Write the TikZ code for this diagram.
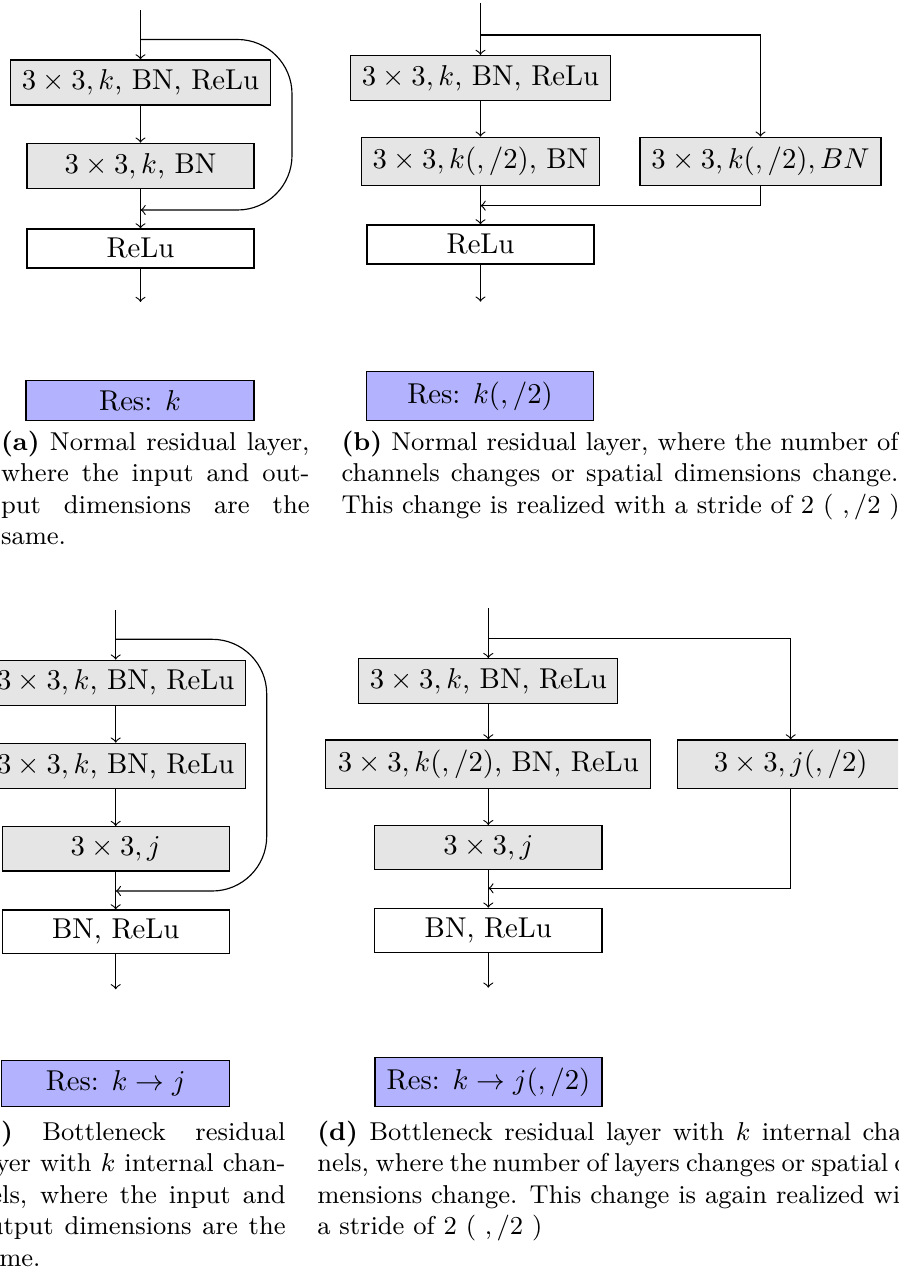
\documentclass[tikz,border=0pt]{standalone}
\newdimen\pxu \pxu=0.34843pt
\begin{document}
\begin{tikzpicture}[
  x=0.34843pt, y=-0.34843pt,
  gb/.style 2 args={draw, fill=black!10, inner sep=0pt, minimum width=#1*0.34843pt, minimum height=#2*0.34843pt},
  wb/.style 2 args={draw, fill=white, inner sep=0pt, minimum width=#1*0.34843pt, minimum height=#2*0.34843pt},
  rb/.style 2 args={draw, fill=blue!30, inner sep=0pt, minimum width=#1*0.34843pt, minimum height=#2*0.34843pt},
  arr/.style={->},
  skipline/.style={->, rounded corners=19pt},
  captxt/.style={inner sep=0pt, anchor=base west, font=\small}
]
\useasboundingbox (0,0) rectangle (898,1272);
\clip (0,0) rectangle (898,1272);

% ---------------- (a)
\coordinate (a0) at (140.5,10);
\coordinate (ab) at (140.5,39.5);
\node[gb={260}{45}] (a1) at (140.5,82.5) {$3\times3,k$, BN, ReLu};
\node[gb={227}{45.5}] (a2) at (140.5,166) {$3\times3,k$, BN};
\node[wb={227}{39}] (a3) at (140.5,248.5) {ReLu};
\coordinate (aj) at (140.5,210);
\coordinate (ar) at (292,210);
\coordinate (aout) at (140.5,302);
\node[rb={228}{40}] (ares) at (140,400.7) {Res: $k$};
\draw[arr] (a0) -- (a1);
\draw[arr] (a1) -- (a2);
\draw[arr] (a2) -- (a3);
\draw[arr] (a3) -- (aout);
\draw[skipline] (ab) -| (ar) -- (aj);

% ---------------- (b)
\coordinate (b0) at (480.5,3);
\coordinate (bb) at (480.5,35);
\node[gb={260}{45}] (b1) at (480.5,78) {$3\times3,k$, BN, ReLu};
\node[gb={238}{48.5}] (b2) at (480.5,161.5) {$3\times3,k(,/2)$, BN};
\node[gb={241}{48.5}] (b3) at (760.5,161.5) {$3\times3,k(,/2),BN$};
\coordinate (bj) at (480.5,205.7);
\node[wb={227}{39}] (b4) at (480.5,244.5) {ReLu};
\coordinate (bout) at (480.5,301.7);
\node[rb={227}{49}] (bres) at (480,396.2) {Res: $k(,/2)$};
\draw[arr] (b0) -- (b1);
\draw[arr] (b1) -- (b2);
\draw[arr] (b2) -- (b4);
\draw[arr] (b4) -- (bout);
\draw[arr] (bb) -| (b3);
\draw[arr] (b3) |- (bj);

% ---------------- (c)
\coordinate (c0) at (115.7,610);
\coordinate (cb) at (115.7,639.3);
\node[gb={260}{45}] (c1) at (115.7,682.7) {$3\times3,k$, BN, ReLu};
\node[gb={260}{45.5}] (c2) at (115.7,766) {$3\times3,k$, BN, ReLu};
\node[gb={227}{44.3}] (c3) at (115.7,848.8) {$3\times3,j$};
\coordinate (cj) at (115.7,891);
\node[wb={227}{43.3}] (c4) at (115.7,931.7) {BN, ReLu};
\coordinate (cout) at (115.7,989.3);
\coordinate (cr) at (266.7,891);
\node[rb={228}{46}] (cres) at (115.7,1083.7) {Res: $k\to j$};
\draw[arr] (c0) -- (c1);
\draw[arr] (c1) -- (c2);
\draw[arr] (c2) -- (c3);
\draw[arr] (c3) -- (c4);
\draw[arr] (c4) -- (cout);
\draw[skipline] (cb) -| (cr) -- (cj);

% ---------------- (d)
\coordinate (d0) at (488.3,608);
\coordinate (db) at (488.3,638.3);
\node[gb={259}{45}] (d1) at (488.3,681.2) {$3\times3,k$, BN, ReLu};
\node[gb={325}{48.3}] (d2) at (488.3,764.2) {$3\times3,k(,/2)$, BN, ReLu};
\node[gb={227}{48.3}] (d3) at (790.7,764.2) {$3\times3,j(,/2)$};
\node[gb={227.5}{43.6}] (d4) at (488.3,847.5) {$3\times3,j$};
\coordinate (dj) at (488.3,888.3);
\node[wb={227.5}{44.4}] (d5) at (488.3,930.5) {BN, ReLu};
\coordinate (dout) at (488.3,987.7);
\node[rb={227}{49}] (dres) at (488.5,1082.2) {Res: $k\to j(,/2)$};
\draw[arr] (d0) -- (d1);
\draw[arr] (d1) -- (d2);
\draw[arr] (d2) -- (d4);
\draw[arr] (d4) -- (d5);
\draw[arr] (d5) -- (dout);
\draw[arr] (db) -| (d3);
\draw[arr] (d3) |- (dj);

% ---------------- captions
\node[captxt] (capa) at (0.5,450) {\vtop{\baselineskip=31.6\pxu
  \hbox to 308.5\pxu{\textbf{(a)} Normal residual layer,}
  \hbox to 308.5\pxu{where the input and out-}
  \hbox to 308.5\pxu{put dimensions are the}
  \hbox{same.}}};
\node[captxt] (capb) at (341,450) {\vtop{\baselineskip=31.6\pxu
  \hbox to 557\pxu{\textbf{(b)} Normal residual layer, where the number of}
  \hbox to 557\pxu{channels changes or spatial dimensions change.}
  \hbox{This change is realized with a stride of 2 ( ,\,/2 )}}};
\node[captxt] (capc) at (-25,1140) {\vtop{\baselineskip=31.6\pxu
  \hbox to 310\pxu{\textbf{(c)} Bottleneck residual}
  \hbox to 310\pxu{layer with $k$ internal chan-}
  \hbox to 310\pxu{nels, where the input and}
  \hbox to 310\pxu{output dimensions are the}
  \hbox{same.}}};
\node[captxt] (capd) at (316.7,1140) {\vtop{\baselineskip=31.6\pxu
  \hbox to 608\pxu{\textbf{(d)} Bottleneck residual layer with $k$ internal chan-}
  \hbox to 608\pxu{nels, where the number of layers changes or spatial di-}
  \hbox to 608\pxu{mensions change. This change is again realized with}
  \hbox{a stride of 2 ( ,\,/2 )}}};
\end{tikzpicture}
\end{document}
